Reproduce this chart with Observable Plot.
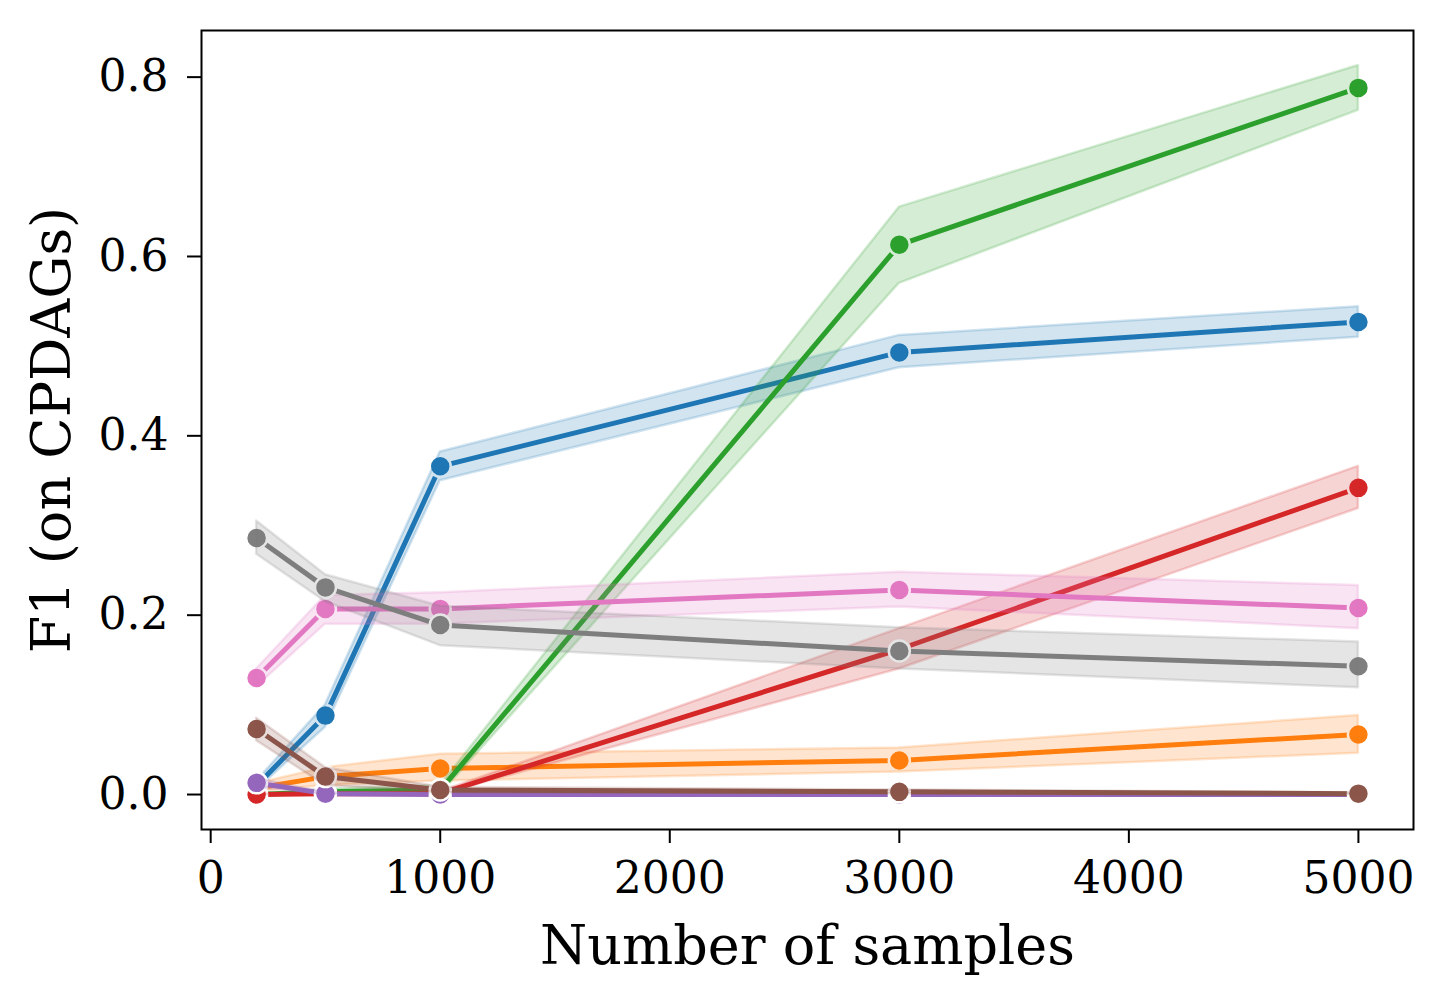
<!DOCTYPE html>
<html>
<head>
<meta charset="utf-8">
<script src="https://cdn.jsdelivr.net/npm/d3@7"></script>
<script src="https://cdn.jsdelivr.net/npm/@observablehq/plot@0.6"></script>
<style>
  html, body { margin: 0; padding: 0; background: #fff; }
</style>
</head>
<body>
<div id="chart"></div>
<script>
// Sample sizes (x)
const samples = [200, 500, 1000, 3000, 5000];

// x tick values and y tick values
const xTicks = [0, 1000, 2000, 3000, 4000, 5000];
const yTicks = [0.0, 0.2, 0.4, 0.6, 0.8];

// Series order (draw order) and colours
const seriesNames = ["blue", "orange", "green", "red", "purple", "brown", "pink", "gray"];
const seriesColors = ["#1f77b4", "#ff7f0e", "#2ca02c", "#d62728", "#9467bd", "#8c564b", "#e377c2", "#7f7f7f"];

// Mean F1 values
const blueMean   = [0.010, 0.088, 0.366, 0.493, 0.527];
const orangeMean = [0.007, 0.020, 0.029, 0.038, 0.067];
const greenMean  = [0.000, 0.003, 0.005, 0.613, 0.788];
const redMean    = [0.000, 0.001, 0.001, 0.162, 0.342];
const purpleMean = [0.013, 0.001, 0.000, 0.000, 0.000];
const brownMean  = [0.073, 0.020, 0.005, 0.003, 0.001];
const pinkMean   = [0.130, 0.207, 0.207, 0.228, 0.208];
const grayMean   = [0.286, 0.231, 0.189, 0.160, 0.143];

// Lower confidence bounds
const blueLo   = [0.005, 0.075, 0.350, 0.476, 0.510];
const orangeLo = [0.003, 0.010, 0.015, 0.025, 0.046];
const greenLo  = [0.000, 0.000, 0.000, 0.570, 0.763];
const redLo    = [0.000, 0.000, 0.000, 0.140, 0.319];
const purpleLo = [0.008, 0.000, 0.000, 0.000, 0.000];
const brownLo  = [0.060, 0.010, 0.002, 0.001, 0.000];
const pinkLo   = [0.120, 0.190, 0.190, 0.209, 0.185];
const grayLo   = [0.268, 0.215, 0.166, 0.140, 0.119];

// Upper confidence bounds
const blueHi   = [0.015, 0.100, 0.382, 0.512, 0.544];
const orangeHi = [0.012, 0.030, 0.045, 0.052, 0.088];
const greenHi  = [0.000, 0.006, 0.010, 0.655, 0.813];
const redHi    = [0.000, 0.002, 0.003, 0.185, 0.366];
const purpleHi = [0.018, 0.002, 0.001, 0.001, 0.001];
const brownHi  = [0.085, 0.030, 0.008, 0.005, 0.002];
const pinkHi   = [0.140, 0.222, 0.225, 0.248, 0.233];
const grayHi   = [0.305, 0.245, 0.210, 0.186, 0.170];

const means = [blueMean, orangeMean, greenMean, redMean, purpleMean, brownMean, pinkMean, grayMean];
const los   = [blueLo, orangeLo, greenLo, redLo, purpleLo, brownLo, pinkLo, grayLo];
const his   = [blueHi, orangeHi, greenHi, redHi, purpleHi, brownHi, pinkHi, grayHi];

const marks = [];
seriesNames.forEach((name, i) => {
  const rows = samples.map((s, j) => ({n: s, f1: means[i][j], lo: los[i][j], hi: his[i][j]}));
  const c = seriesColors[i];
  marks.push(Plot.line(rows, {x: "n", y: "f1", stroke: c, strokeWidth: 5}));
  marks.push(Plot.dot(rows, {x: "n", y: "f1", r: 10.5, fill: c, stroke: "white", strokeWidth: 2.5}));
  marks.push(Plot.areaY(rows, {x: "n", y1: "lo", y2: "hi", fill: c, fillOpacity: 0.2, stroke: c, strokeOpacity: 0.2, strokeWidth: 2.5}));
});

const chart = Plot.plot({
  width: 1447,
  height: 1003,
  marginLeft: 201,
  marginRight: 34,
  marginTop: 30,
  marginBottom: 174,
  style: {fontFamily: "DejaVu Serif", background: "white", color: "black"},
  x: {domain: [-40, 5240], ticks: xTicks},
  y: {domain: [-0.039, 0.852], ticks: yTicks},
  marks: [
    ...marks,
    Plot.frame({stroke: "black", strokeWidth: 2}),
    Plot.axisX({ticks: xTicks, tickSize: 14, tickPadding: 18, tickFormat: d3.format("d"), fontSize: 44, label: null, strokeWidth: 2}),
    Plot.axisY({ticks: yTicks, tickSize: 14, tickPadding: 19, tickFormat: d3.format(".1f"), fontSize: 44, label: null, strokeWidth: 2}),
    Plot.text(["Number of samples"], {frameAnchor: "bottom", dy: 117, fontSize: 54, lineAnchor: "middle", textAnchor: "middle", fill: "black"}),
    Plot.text(["F1 (on CPDAGs)"], {frameAnchor: "left", dx: -149, rotate: -90, fontSize: 54, lineAnchor: "middle", textAnchor: "middle", fill: "black"})
  ]
});
document.getElementById("chart").appendChild(chart);
</script>
</body>
</html>
